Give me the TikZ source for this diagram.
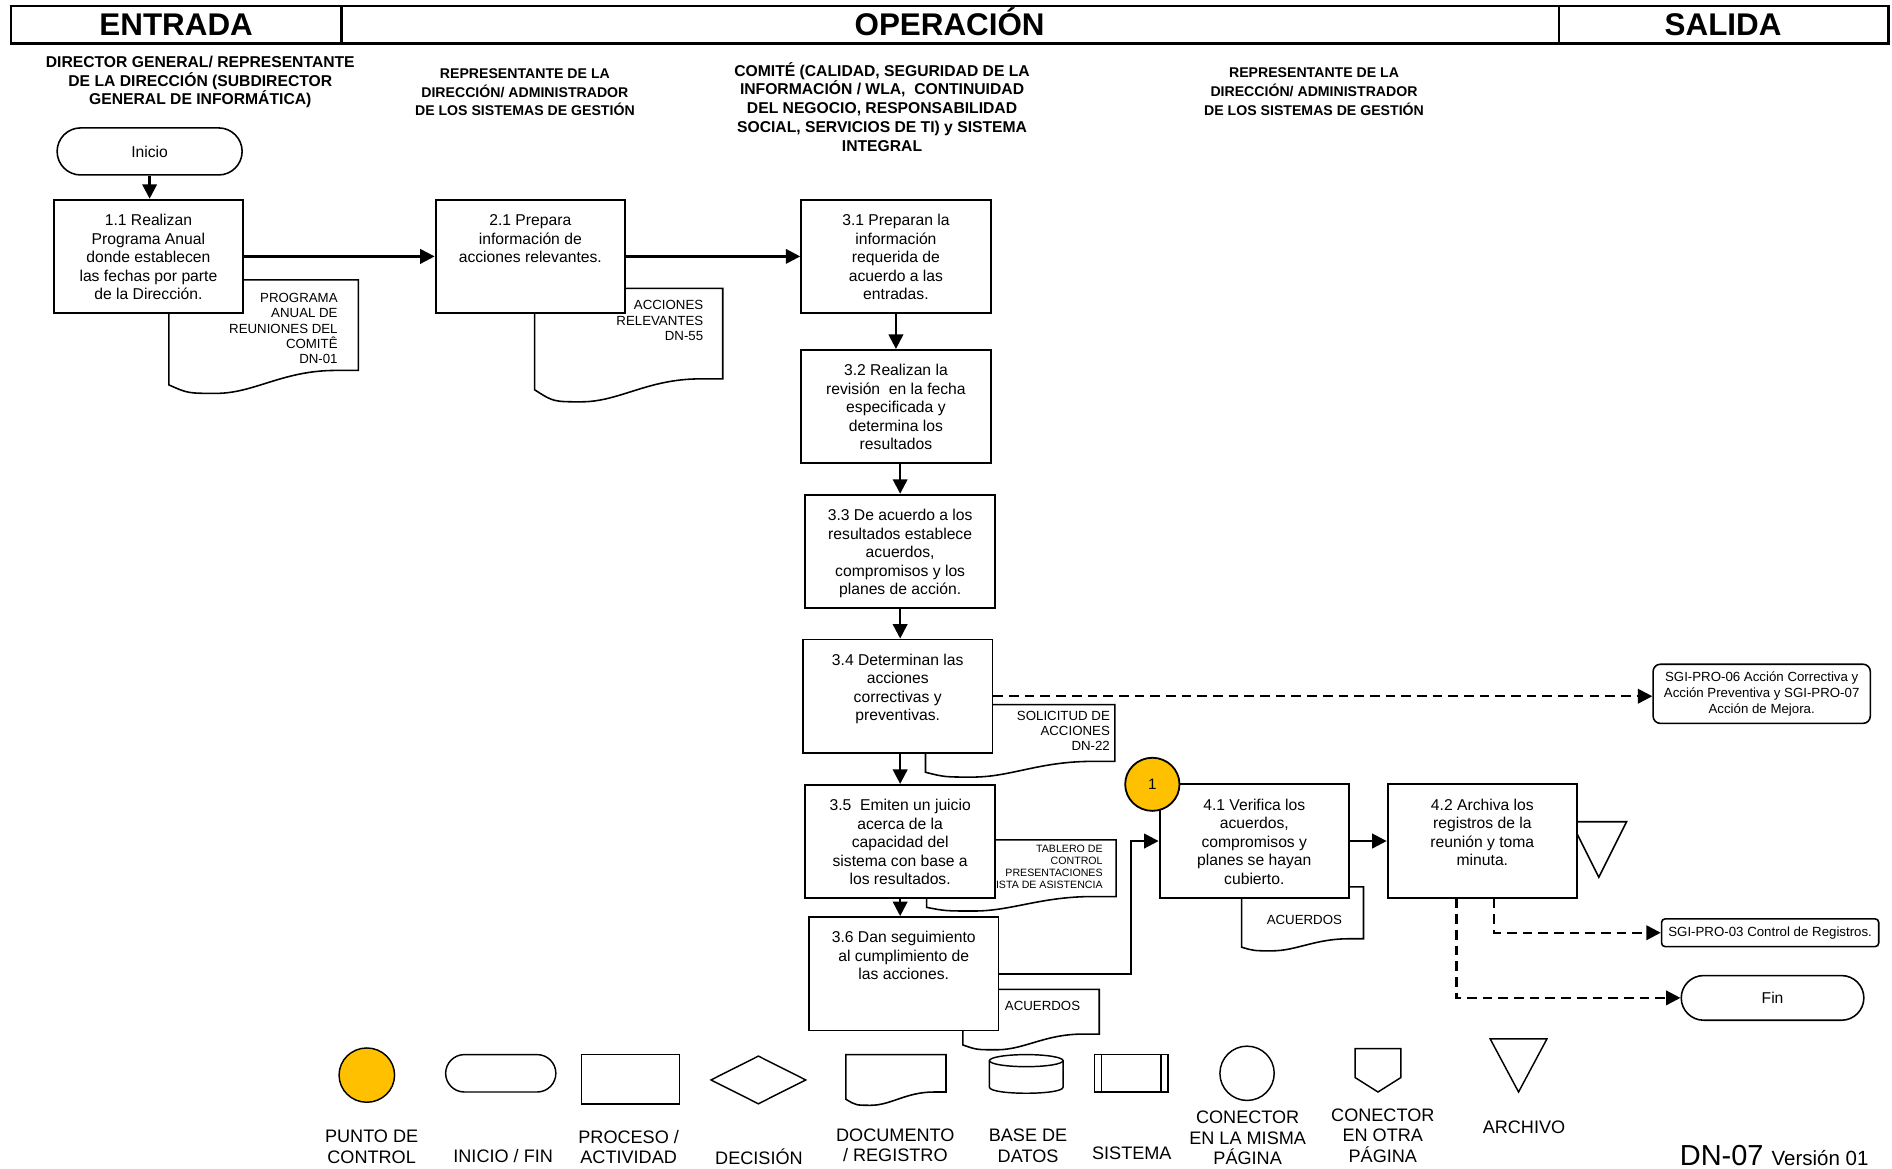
\documentclass[tikz,border=0pt]{standalone}
\usepackage{fontspec}
\setmainfont{Liberation Sans}
\usetikzlibrary{arrows.meta, shapes.geometric, shapes.misc, calc}
\definecolor{puntoctl}{HTML}{FFC000}

% text of an activity box, top aligned
\newcommand{\ptxt}[1]{\parbox[c][94pt][t]{157pt}{\centering\rule{0pt}{21.5pt}#1}}
% document shape: x0, top, x1, left bottom, lowest, right bottom
\newcommand{\docu}[6]{%
  \pgfmathsetmacro{\dw}{#3-#1}
  \filldraw[docline] (#1,#2) -- (#3,#2) -- (#3,#6) -- ({#1+0.88*\dw},#6)
    .. controls ({#1+0.6*\dw},#6) and ({#1+0.45*\dw},#5) .. ({#1+0.25*\dw},#5)
    .. controls ({#1+0.1*\dw},#5) .. (#1,#4) -- cycle;}

\tikzset{
  proc/.style={draw, line width=1.6pt, fill=white, inner sep=0pt, font=\fontsize{13}{15.3}\selectfont},
  flow/.style={line width=2pt, -{Triangle[length=12pt,width=12pt]}},
  dflow/.style={line width=2pt, dash pattern=on 8pt off 5pt, -{Triangle[length=12pt,width=12pt]}},
  docline/.style={draw=black, fill=white, line width=1.3pt},
  doctext/.style={align=right, inner sep=0pt, font=\fontsize{11}{12.6}\selectfont},
  terminal/.style={draw, rounded rectangle, line width=1.3pt, fill=white, font=\fontsize{13}{15}\selectfont},
  hdr/.style={font=\bfseries\fontsize{26}{28}\selectfont, inner sep=0pt, anchor=base},
  lane/.style={align=center, inner sep=0pt, font=\bfseries\fontsize{13}{15.6}\selectfont},
  lanenarrow/.style={align=center, inner sep=0pt, font=\bfseries\fontsize{11.7}{15.5}\selectfont},
  reff/.style={draw, line width=1.3pt, rounded corners=6pt, align=center, inner sep=0pt, font=\fontsize{11}{13}\selectfont},
  lgtext/.style={align=center, inner sep=0pt, font=\fontsize{15}{17}\selectfont},
  lgline/.style={line width=1.2pt}
}

\begin{document}
\begin{tikzpicture}[x=1pt, y=-1pt]
\useasboundingbox (0,0) rectangle (1568,968);

% Header
\draw[line width=2pt] (9,5) rectangle (1565,36);
\draw[line width=2pt] (283,5) -- (283,36) (1292,5) -- (1292,36);
\node[hdr] (hEntrada) at (146,29.5) {ENTRADA};
\node[hdr] (hOperacion) at (787,29.5) {OPERACIÓN};
\node[hdr] (hSalida) at (1428,29.5) {SALIDA};

% Lanes
\node[lane] (lane1) at (166,68) {DIRECTOR GENERAL/ REPRESENTANTE\\DE LA DIRECCIÓN (SUBDIRECTOR\\GENERAL DE INFORMÁTICA)};
\node[lanenarrow] (lane2) at (435,76.5) {REPRESENTANTE DE LA\\DIRECCIÓN/ ADMINISTRADOR\\DE LOS SISTEMAS DE GESTIÓN};
\node[lane] (lane3) at (731,88.5) {COMITÉ (CALIDAD, SEGURIDAD DE LA\\INFORMACIÓN / WLA,\ \ CONTINUIDAD\\DEL NEGOCIO, RESPONSABILIDAD\\SOCIAL, SERVICIOS DE TI) y SISTEMA\\INTEGRAL};
\node[lanenarrow] (lane4) at (1089,76) {REPRESENTANTE DE LA\\DIRECCIÓN/ ADMINISTRADOR\\DE LOS SISTEMAS DE GESTIÓN};

% Documents
\docu{140}{232}{297}{319}{326}{307}
\node[doctext, anchor=north east] (dn01) at (280,243) {PROGRAMA\\ANUAL DE\\REUNIONES DEL\\COMITÊ\\DN-01};
\docu{443}{239}{599}{323}{333}{314}
\node[doctext, anchor=north east] (dn55) at (583,249) {ACCIONES\\RELEVANTES\\DN-55};
\docu{767}{584}{924}{640}{644}{631}
\node[doctext, anchor=north east] (dn22) at (920,589) {SOLICITUD DE\\ACCIONES\\DN-22};
\docu{768}{696}{925}{752}{755}{743}
\node[doctext, anchor=north east, font=\fontsize{8.8}{9.9}\selectfont] (tablero) at (914,700.5) {TABLERO DE\\CONTROL\\PRESENTACIONES\\LISTA DE ASISTENCIA};
\docu{798}{820}{911}{866}{870}{857}
\node[doctext] (acuerdosA) at (864,834) {ACUERDOS};
\docu{1029}{735}{1130}{785}{788}{778}
\node[doctext] (acuerdosB) at (1081,762) {ACUERDOS};

% Archive beside 4.2
\draw[line width=1.3pt, fill=white] (1302,681) -- (1348,681) -- (1325,727) -- cycle;

% Activities
\node[terminal, minimum width=160pt, minimum height=39pt] (inicio) at (124,125.5) {Inicio};
\node[proc] (p11) at (123,212.5) {\ptxt{1.1 Realizan\\Programa Anual\\donde establecen\\las fechas por parte\\de la Dirección.}};
\node[proc] (p21) at (439.5,212.5) {\ptxt{2.1 Prepara\\información de\\acciones relevantes.}};
\node[proc] (p31) at (742.5,212.5) {\ptxt{3.1 Preparan la\\información\\requerida de\\acuerdo a las\\entradas.}};
\node[proc] (p32) at (742.5,337) {\ptxt{3.2 Realizan la\\revisión\ \ en la fecha\\especificada y\\determina los\\resultados}};
\node[proc] (p33) at (746,457) {\ptxt{3.3 De acuerdo a los\\resultados establece\\acuerdos,\\compromisos y los\\planes de acción.}};
\node[proc] (p34) at (744,577) {\ptxt{3.4 Determinan las\\acciones\\correctivas y\\preventivas.}};
\node[proc] (p35) at (746,697.5) {\ptxt{3.5\ \ Emiten un juicio\\acerca de la\\capacidad del\\sistema con base a\\los resultados.}};
\node[proc] (p36) at (749,807) {\ptxt{3.6 Dan seguimiento\\al cumplimiento de\\las acciones.}};
\node[proc] (p41) at (1039.5,697) {\ptxt{4.1 Verifica los\\acuerdos,\\compromisos y\\planes se hayan\\cubierto.}};
\node[proc] (p42) at (1228.5,697) {\ptxt{4.2 Archiva los\\registros de la\\reunión y toma\\minuta.}};

% Outputs
\node[reff, minimum width=180pt, minimum height=49pt] (sgi06) at (1460,575) {SGI-PRO-06 Acción Correctiva y\\Acción Preventiva y SGI-PRO-07\\Acción de Mejora.};
\node[reff, rounded corners=3pt, minimum width=180pt, minimum height=23pt] (sgi03) at (1467,773) {SGI-PRO-03 Control de Registros.};
\node[terminal, minimum width=158pt, minimum height=37pt] (fin) at (1469,827) {Fin};

% Flow
\draw[flow] (inicio.south) -- (inicio.south |- p11.north);
\draw[flow] (p11) -- (p21);
\draw[flow] (p21) -- (p31);
\draw[flow] (p31) -- (p32);
\draw[flow] (p33.north |- p32.south) -- (p33.north);
\draw[flow] (p33.south) -- (p33.south |- p34.north);
\draw[flow] (p35.north |- p34.south) -- (p35.north);
\draw[flow] (p35.south) -- (p35.south |- p36.north);
\draw[flow] (p36.east) -- ++(109,0) |- (p41.west);
\draw[flow] (p41) -- (p42);
\draw[dflow] (p34.east) -- (p34.east -| sgi06.west);
\draw[dflow] ($(p42.south)+(9.5,0)$) |- (sgi03.west);
\draw[dflow] ($(p42.south)+(-21.5,0)$) |- (fin.west);

% Control point
\node[ellipse, draw, line width=1.5pt, fill=puntoctl, minimum width=45pt, minimum height=44pt, inner sep=0pt, font=\fontsize{12.5}{13}\selectfont] (pc1) at (955,650) {1};

% Legend
\node[ellipse, draw, lgline, fill=puntoctl, minimum width=46pt, minimum height=45pt] (lgPunto) at (304,891) {};
\node[lgtext] (lgPuntoT) at (308,950.5) {PUNTO DE\\CONTROL};
\node[draw, rounded rectangle, lgline, minimum width=98pt, minimum height=31pt] (lgInicio) at (415,889.5) {};
\node[lgtext] (lgInicioT) at (417,958) {INICIO / FIN};
\node[draw, lgline, minimum width=81pt, minimum height=41pt] (lgProc) at (522.5,894.5) {};
\node[lgtext] (lgProcT) at (521,950.5) {PROCESO /\\ACTIVIDAD};
\node[draw, diamond, lgline, aspect=2, minimum width=79pt, minimum height=40pt, inner sep=0pt] (lgDec) at (628.5,895) {};
\node[lgtext] (lgDecT) at (629,959) {DECISIÓN};
\docu{701}{874}{784}{911}{916}{905}
\node[lgtext] (lgDocT) at (742,949) {DOCUMENTO\\/ REGISTRO};
\draw[lgline] (820,879) -- (820,901) .. controls (820,907.7) and (881,907.7) .. (881,901) -- (881,879);
\draw[lgline] (850.5,879) ellipse [x radius=30.5pt, y radius=5pt];
\node[lgtext] (lgBaseT) at (852,949.5) {BASE DE\\DATOS};
\draw[lgline] (907,874) rectangle (968,905) (913,874) -- (913,905) (962,874) -- (962,905);
\node[lgtext] (lgSisT) at (938,956) {SISTEMA};
\node[circle, draw, lgline, minimum size=45pt] (lgCon) at (1033.5,889.5) {};
\node[lgtext] (lgConT) at (1034,943) {CONECTOR\\EN LA MISMA\\PÁGINA};
\draw[lgline] (1123,869) -- (1161,869) -- (1161,893) -- (1142,905) -- (1123,893) -- cycle;
\node[lgtext] (lgOtraT) at (1146,941) {CONECTOR\\EN OTRA\\PÁGINA};
\draw[lgline] (1235,861) -- (1282,861) -- (1258.5,905) -- cycle;
\node[lgtext] (lgArchT) at (1263,934) {ARCHIVO};

\node[anchor=base west, inner sep=0pt, font=\fontsize{24}{26}\selectfont] (version) at (1392,966) {DN-07 {\fontsize{17}{19}\selectfont Versión 01}};
\end{tikzpicture}
\end{document}
